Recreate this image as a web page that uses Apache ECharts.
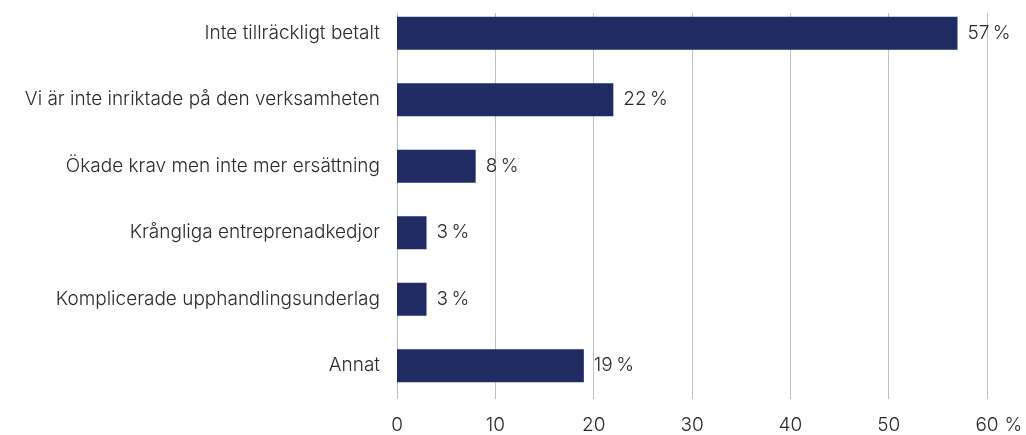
<!DOCTYPE html>
<html><head><meta charset="utf-8">
<script src="https://cdn.jsdelivr.net/npm/echarts@6/dist/echarts.min.js"></script>
<style>html,body{margin:0;padding:0;background:#fff}#c{width:1026px;height:435px}</style>
</head><body><div id="c"></div>
<script>
const categories = ['Inte tillräckligt betalt','Vi är inte inriktade på den verksamheten','Ökade krav men inte mer ersättning','Krångliga entreprenadkedjor','Komplicerade upphandlingsunderlag','Annat'];
const values = [57, 22, 8, 3, 3, 19];
const xTicks = [0, 10, 20, 30, 40, 50, 60];
const unit = '%';
const font = 'Inter';
const chart = echarts.init(document.getElementById('c'));
chart.setOption({
  animation: false,
  grid: {left: 397, right: 39, top: 0, bottom: 31},
  xAxis: {
    type: 'value', min: xTicks[0], max: xTicks[xTicks.length-1], interval: 10,
    axisLine: {show: false}, axisTick: {show: false},
    splitLine: {lineStyle: {color: '#c0c0c0', width: 1}},
    axisLabel: {color: '#2a2a2a', fontSize: 19, fontFamily: font, fontWeight: 300, margin: 17},
    name: unit, nameLocation: 'end', nameGap: 15,
    nameTextStyle: {color: '#2a2a2a', fontSize: 19, fontFamily: font, fontWeight: 300, verticalAlign: 'top', padding: [17, 0, 0, 0]}
  },
  yAxis: {
    type: 'category', data: categories, inverse: true,
    axisLine: {show: false}, axisTick: {show: false},
    axisLabel: {color: '#2a2a2a', fontSize: 19, fontFamily: font, fontWeight: 300, margin: 17}
  },
  graphic: [{type: 'rect', left: 390, top: 0, z: 100, shape: {width: 640, height: 13}, style: {fill: '#fff'}}],
  series: [{
    type: 'bar', data: values, barWidth: 33,
    itemStyle: {color: '#212b63'},
    label: {show: true, position: 'right', distance: 10, color: '#2a2a2a', fontSize: 19, fontFamily: font, fontWeight: 300,
      formatter: p => p.value + '\u2009%'}
  }]
});
</script></body></html>
